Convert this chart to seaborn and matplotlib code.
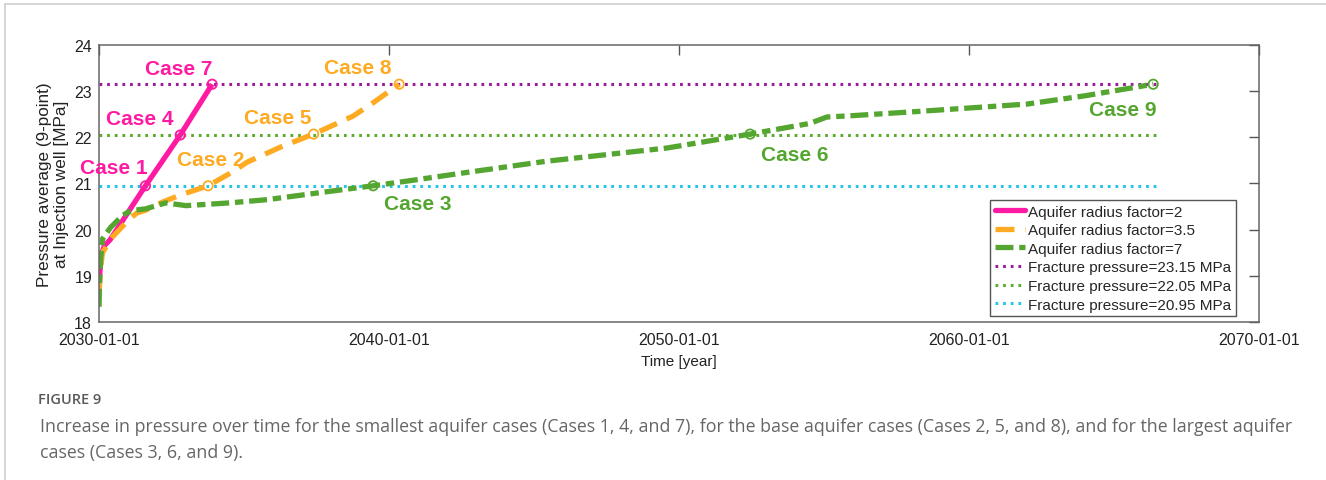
import matplotlib
matplotlib.use("Agg")
import matplotlib.pyplot as plt
from matplotlib.lines import Line2D
import seaborn as sns
import pandas as pd

# ---- data (time in decimal years, pressure in MPa) ----
radius2_t = [2030.0, 2030.03, 2030.08, 2030.18, 2030.38, 2031.6, 2032.8, 2033.9]
radius2_p = [18.70, 19.10, 19.45, 19.65, 19.78, 20.95, 22.05, 23.15]

radius35_t = [2030.0, 2030.04, 2030.12, 2030.4, 2031.0, 2031.3, 2031.6, 2032.2,
              2032.8, 2033.76, 2034.6, 2035.1, 2036.3, 2037.4, 2038.76, 2039.5, 2040.35]
radius35_p = [18.60, 19.10, 19.50, 19.80, 20.20, 20.36, 20.42, 20.60,
              20.75, 20.95, 21.25, 21.46, 21.80, 22.07, 22.46, 22.77, 23.15]

radius7_t = [2030.0, 2030.02, 2030.06, 2030.12, 2030.4, 2030.8, 2031.0, 2031.2,
             2031.6, 2032.3, 2033.0, 2034.5, 2035.8, 2037.0, 2038.2, 2039.45,
             2040.6, 2042.8, 2045.4, 2049.6, 2052.45, 2054.5, 2055.1, 2056.0,
             2058.0, 2062.0, 2064.0, 2066.35]
radius7_p = [18.33, 18.90, 19.40, 19.80, 20.05, 20.30, 20.38, 20.42,
             20.45, 20.58, 20.52, 20.58, 20.65, 20.75, 20.85, 20.95,
             21.05, 21.25, 21.48, 21.77, 22.07, 22.30, 22.44, 22.47,
             22.55, 22.72, 22.90, 23.15]

fracture_levels = [23.15, 22.05, 20.95]
fracture_end = 2066.45

# case markers: (label, time, pressure)
case_names = ["Case 1", "Case 4", "Case 7", "Case 2", "Case 5", "Case 8",
              "Case 3", "Case 6", "Case 9"]
case_t = [2031.6, 2032.8, 2033.9, 2033.76, 2037.4, 2040.35, 2039.45, 2052.45, 2066.35]
case_p = [20.95, 22.05, 23.15, 20.95, 22.07, 23.15, 20.95, 22.07, 23.15]
case_group = [0, 0, 0, 1, 1, 1, 2, 2, 2]

x_ticks = [2030, 2040, 2050, 2060, 2070]
x_tick_labels = ["2030-01-01", "2040-01-01", "2050-01-01", "2060-01-01", "2070-01-01"]
y_ticks = [18, 19, 20, 21, 22, 23, 24]

series_labels = ["Aquifer radius factor=2", "Aquifer radius factor=3.5",
                 "Aquifer radius factor=7"]
fracture_labels = ["Fracture pressure=23.15 MPa", "Fracture pressure=22.05 MPa",
                   "Fracture pressure=20.95 MPa"]

# ---- styling ----
sns.set_theme(style="white")
plt.rcParams["font.family"] = ["Liberation Sans", "DejaVu Sans"]

PINK = "#ff1aa3"
ORANGE = "#ffaa22"
GREEN = "#55a630"
PURPLE = "#9a1a9a"
DOTGREEN = "#5aac2a"
CYAN = "#22c4e8"
series_colors = [PINK, ORANGE, GREEN]
fracture_colors = [PURPLE, DOTGREEN, CYAN]

DOT = (0, (0.9, 1.6))
DASH = (0, (3.6, 2.0))
DASHDOT = (0, (3.4, 1.1, 1.6, 1.1))

fig = plt.figure(figsize=(13.26, 4.81), dpi=100)
ax = fig.add_axes([0.0747, 0.3285, 0.8748, 0.5759])

# fracture pressure reference lines
for lvl, col in zip(fracture_levels, fracture_colors):
    df = pd.DataFrame({"t": [2030.0, fracture_end], "p": [lvl, lvl]})
    sns.lineplot(data=df, x="t", y="p", ax=ax, color=col, lw=2.2,
                 linestyle=DOT, sort=False)

# pressure curves
curves = [(radius2_t, radius2_p, (0, ())), (radius35_t, radius35_p, DASH),
          (radius7_t, radius7_p, DASHDOT)]
for (t, p, ls), col in zip(curves, series_colors):
    df = pd.DataFrame({"t": t, "p": p})
    sns.lineplot(data=df, x="t", y="p", ax=ax, color=col, lw=3.8,
                 linestyle=ls, sort=False)

# case markers
cases = pd.DataFrame({"t": case_t, "p": case_p, "g": case_group})
for g, col in enumerate(series_colors):
    sub = cases[cases["g"] == g]
    sns.scatterplot(data=sub, x="t", y="p", ax=ax, marker="o", s=45,
                    facecolor="none", edgecolor=col, linewidth=1.3, zorder=5)

# case labels, offset from their markers (points)
offsets = [(-23, 13), (-29, 12), (-24, 11), (2, 19), (-26, 12), (-30, 12),
           (32, -13), (32, -15), (-22, -18)]
for name, t, p, g, (dx, dy) in zip(case_names, case_t, case_p, case_group, offsets):
    ax.annotate(name, xy=(t, p), xytext=(dx, dy), textcoords="offset points",
                ha="center", va="center", fontsize=15, fontweight="bold",
                color=series_colors[g])

ax.set_xlim(2030, 2070)
ax.set_ylim(18, 24)
ax.set_xticks(x_ticks)
ax.set_xticklabels(x_tick_labels)
ax.set_yticks(y_ticks)
ax.tick_params(axis="both", direction="in", length=7.5, width=1, colors="#555555",
               labelcolor="#222222", labelsize=11.5, top=True, right=True)
ax.tick_params(axis="x", pad=7)
ax.tick_params(axis="y", pad=5)
for s in ax.spines.values():
    s.set_color("#666666")
    s.set_linewidth(1.1)

ax.set_xlabel("Time [year]", fontsize=11, color="#222222", labelpad=5)
ax.set_ylabel("Pressure average (9-point)\nat Injection well [MPa]", fontsize=12.3,
              color="#222222", labelpad=4, linespacing=1.15)

# legend
handles = [
    Line2D([], [], color=PINK, lw=3.8),
    Line2D([], [], color=ORANGE, lw=3.8, linestyle=DASH),
    Line2D([], [], color=GREEN, lw=3.8, linestyle=DASHDOT),
] + [Line2D([], [], color=c, lw=2.2, linestyle=DOT) for c in fracture_colors]
leg = ax.legend(handles, series_labels + fracture_labels, loc="lower right",
                bbox_to_anchor=(0.9805, 0.02), fontsize=11, frameon=True, fancybox=False,
                framealpha=1, edgecolor="#555555", borderpad=0.32, labelspacing=0.3,
                handlelength=2.0, handletextpad=0.2, borderaxespad=0)
leg.get_frame().set_linewidth(1.0)

# page frame lines
fig.add_artist(Line2D([0.0035, 1.0], [0.99, 0.99], color="#d0d0d0", lw=1.2))
fig.add_artist(Line2D([0.0035, 0.0035], [0.0, 0.99], color="#d0d0d0", lw=1.2))

# caption
cap_font = ["Open Sans", "DejaVu Sans"]
fig.text(38 / 1326, 1 - 400 / 481, "FIGURE 9", fontsize=10.5, fontweight="semibold",
         color="#5a5a5a", family=cap_font, va="center")
fig.text(40 / 1326, 1 - 427 / 481,
         "Increase in pressure over time for the smallest aquifer cases (Cases 1, 4, and 7), "
         "for the base aquifer cases (Cases 2, 5, and 8), and for the largest aquifer",
         fontsize=12.8, color="#666666", family=cap_font, va="center")
fig.text(40 / 1326, 1 - 453 / 481, "cases (Cases 3, 6, and 9).",
         fontsize=12.8, color="#666666", family=cap_font, va="center")

fig.savefig("out.png", dpi=100)
